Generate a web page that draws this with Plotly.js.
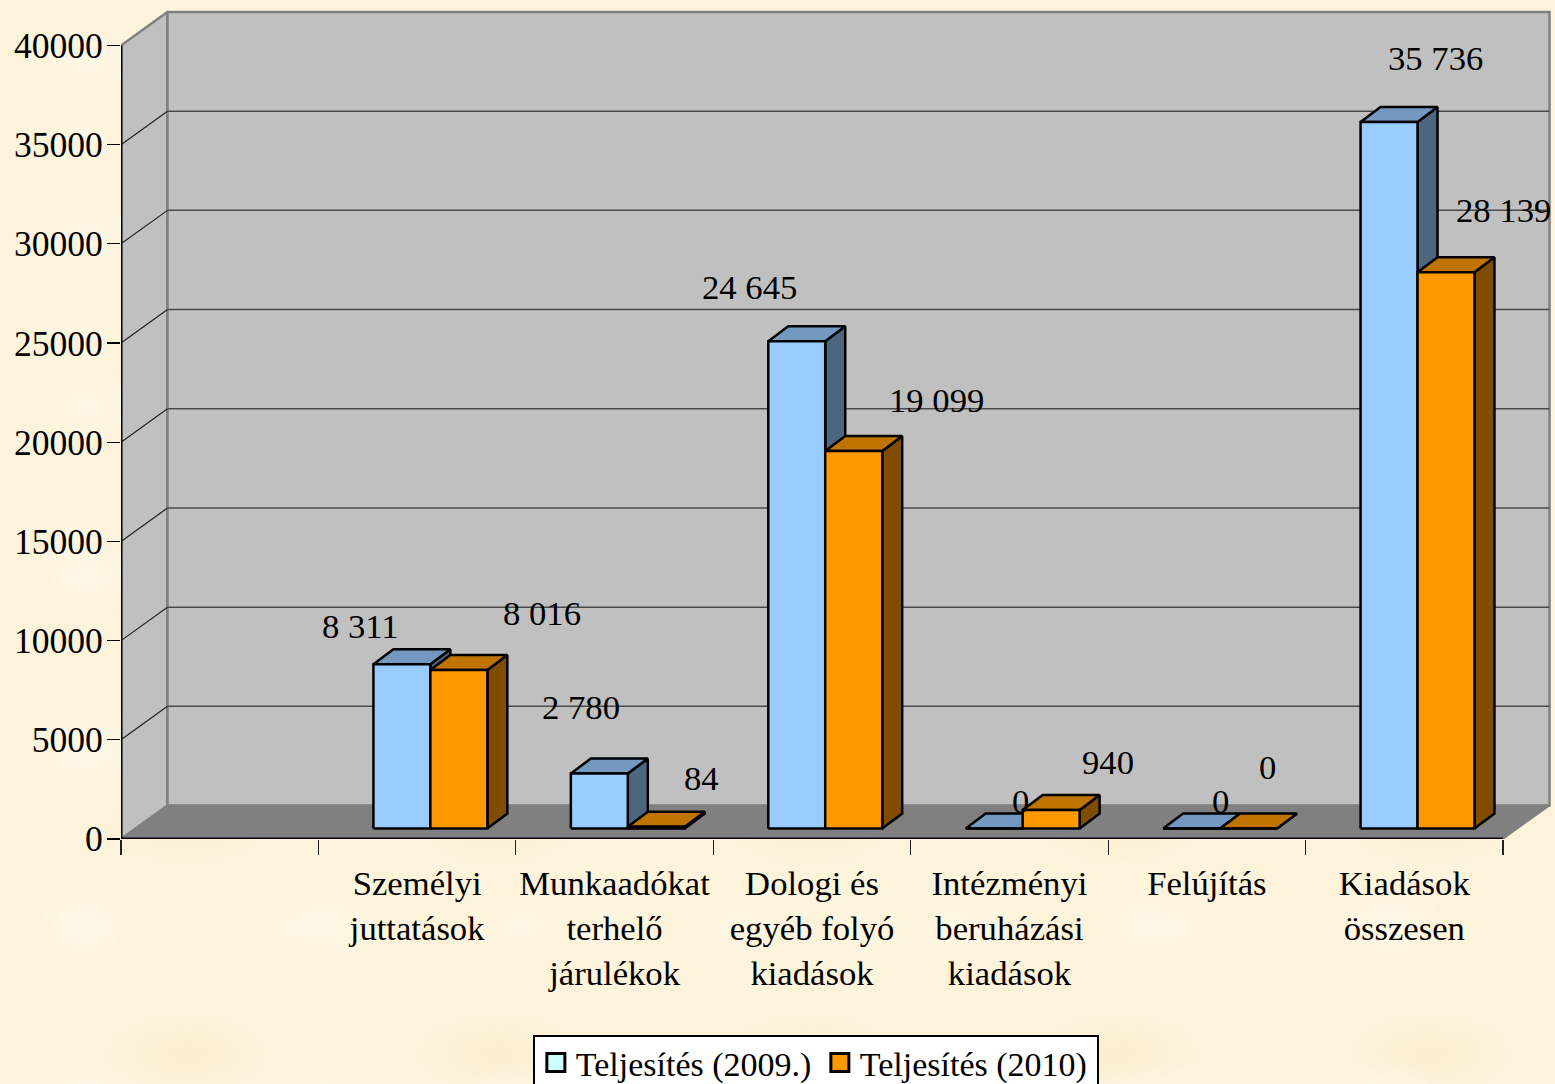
<!DOCTYPE html>
<html>
<head>
<meta charset="utf-8">
<script src="https://cdn.plot.ly/plotly-3.0.1.min.js"></script>
<style>
html,body{margin:0;padding:0;width:1555px;height:1084px;overflow:hidden;
background-color:#fdf3da;
background-image:
 radial-gradient(ellipse 60px 36px at 40% 35%,rgba(255,251,238,.55),transparent),
 radial-gradient(ellipse 80px 40px at 60% 60%,rgba(249,232,196,.45),transparent),
 radial-gradient(ellipse 50px 70px at 30% 70%,rgba(255,249,232,.5),transparent);
background-size:217px 173px,311px 229px,263px 197px;}
#chart{width:1555px;height:1084px;}
</style>
</head>
<body>
<div id="chart"></div>
<script>
// ---- data ----
const categories = ['Személyi<br>juttatások','Munkaadókat<br>terhelő<br>járulékok','Dologi és<br>egyéb folyó<br>kiadások','Intézményi<br>beruházási<br>kiadások','Felújítás','Kiadások<br>összesen'];
const series2009 = [8311, 2780, 24645, 0, 0, 35736];
const series2010 = [8016, 84, 19099, 940, 0, 28139];
const seriesNames = ['Teljesítés (2009.)','Teljesítés (2010)'];
const yTicks = [0,5000,10000,15000,20000,25000,30000,35000,40000];

// ---- layout geometry (pixels) ----
const W=1555, H=1084;
const L=120.5, R=1503, T=45.5, B=839.5;
const pxX=(R-L)/7, pxY=(B-T)/40000;
const dxU=p=>p/pxX, dyU=p=>p/pxY;
const wallX=dxU(46.5), wallY=dyU(33.5);
const barDX=dxU(20), barDY=dyU(15), barBase=dyU(10.5);
const barStart=0.2785, barW=0.2885, barScale=0.9965;
const FONT='"Liberation Serif", "Times New Roman", serif';
const FS=34.67;

function faces(values,sIdx){
  const front={x:[],y:[]},side={x:[],y:[]},top={x:[],y:[]};
  const add=(o,pts)=>{pts.forEach(p=>{o.x.push(p[0]);o.y.push(p[1]);});o.x.push(null);o.y.push(null);};
  values.forEach((v,i)=>{
    const x0=i+1+barStart+sIdx*barW, x1=x0+barW, b=barBase, t=barBase+v*barScale;
    add(front,[[x0,b],[x1,b],[x1,t],[x0,t],[x0,b]]);
    add(side,[[x1,b],[x1+barDX,b+barDY],[x1+barDX,t+barDY],[x1,t],[x1,b]]);
    add(top,[[x0,t],[x0+barDX,t+barDY],[x1+barDX,t+barDY],[x1,t],[x0,t]]);
  });
  return {front,side,top};
}
const poly=(o,fill,lineColor,lw)=>({type:'scatter',mode:'lines',x:o.x,y:o.y,fill:'toself',fillcolor:fill,
  line:{color:lineColor,width:lw,simplify:false},showlegend:false,hoverinfo:'skip'});
const lines=(o,color,lw)=>({type:'scatter',mode:'lines',x:o.x,y:o.y,line:{color:color,width:lw,simplify:false},
  showlegend:false,hoverinfo:'skip',connectgaps:false});

const XMAX=categories.length+1;
const traces=[];
// walls and floor
traces.push(poly({x:[0,wallX,wallX,0,0],y:[0,wallY,40000+wallY,40000,0]},'#c0c0c0','#808080',2.5));
traces.push(poly({x:[wallX,XMAX+wallX,XMAX+wallX,wallX,wallX],y:[wallY,wallY,40000+wallY,40000+wallY,wallY]},'#c0c0c0','#808080',2.5));
traces.push(poly({x:[0,wallX,XMAX+wallX,XMAX,0],y:[0,wallY,wallY,0,0]},'#808080','#808080',1.5));
// gridlines
const gridH={x:[],y:[]},gridD={x:[],y:[]};
yTicks.slice(1,-1).forEach(v=>{
  gridH.x.push(wallX,XMAX+wallX,null);gridH.y.push(v+wallY,v+wallY,null);
  gridD.x.push(0,wallX,null);gridD.y.push(v,v+wallY,null);
});
traces.push(lines(gridH,'#4a4a4a',1.5));
traces.push(lines(gridD,'#222222',1.2));
// axis lines stop at the front corners of the box
traces.push(lines({x:[0,0,null,0,XMAX],y:[0,40000,null,0,0]},'#000',3));
// bars
const f1=faces(series2009,0), f2=faces(series2010,1);
traces.push(poly(f1.side,'#4d6680','#000',2.5));
traces.push(poly(f1.top,'#7399c0','#000',2.5));
traces.push(poly(f1.front,'#99ccff','#000',2.5));
traces.push(poly(f2.side,'#804d00','#000',2.5));
traces.push(poly(f2.top,'#bf7300','#000',2.5));
traces.push(poly(f2.front,'#ff9900','#000',2.5));
// legend entries
[['#ccffff',0],['#ff9900',1]].forEach(c=>{
  traces.push({type:'scatter',mode:'markers',x:[null],y:[null],name:seriesNames[c[1]],
    marker:{symbol:'square',size:16,color:c[0],line:{color:'#000',width:1.4}},hoverinfo:'skip'});
});

// value labels: pixel nudges from each bar's top
const fmt=v=>String(v).replace(/\B(?=(\d{3})+$)/g,' ');
const nudge2009=[[-41,-38],[-18,-66],[-47,-53],[26,-28],[29,-28],[46,-62]];
const nudge2010=[[83,-56],[45,-49],[83,-50],[57,-48],[19,-62],[57,-60]];
const annotations=[];
[[series2009,0,nudge2009],[series2010,1,nudge2010]].forEach(([vals,s,nudge])=>{
  vals.forEach((v,i)=>{
    annotations.push({x:i+1+barStart+(s+0.5)*barW,y:barBase+v,xref:'x',yref:'y',text:fmt(v),showarrow:false,
      xanchor:'center',yanchor:'middle',xshift:nudge[i][0],yshift:-nudge[i][1],
      font:{family:FONT,size:FS,color:'#000'}});
  });
});

const layout={
  width:W,height:H,
  margin:{l:L,r:0,t:0,b:H-B,pad:0,autoexpand:false},
  paper_bgcolor:'rgba(0,0,0,0)',plot_bgcolor:'rgba(0,0,0,0)',
  hovermode:false,showlegend:true,
  font:{family:FONT,size:FS,color:'#000'},
  xaxis:{range:[0,(W-L)/pxX],tickmode:'array',tickvals:categories.map((c,i)=>i+1.5),ticktext:categories,
    ticks:'',ticklen:0,tickangle:0,ticklabelstandoff:20,showgrid:false,zeroline:false,showline:false,
    tickfont:{family:FONT,size:FS,color:'#000'},automargin:false,
    minor:{tickmode:'array',tickvals:[0,1,2,3,4,5,6,7],ticks:'outside',ticklen:15,tickwidth:1.2,tickcolor:'#222',showgrid:false}},
  yaxis:{range:[0,B/pxY],tickmode:'array',tickvals:yTicks,ticktext:yTicks.map(String),ticks:'outside',ticklen:13,tickwidth:1.2,tickcolor:'#000',
    ticklabelstandoff:-3,showgrid:false,zeroline:false,showline:false,
    tickfont:{family:FONT,size:35.6,color:'#000'},automargin:false},
  legend:{orientation:'h',x:(533-L)/(W-L),xanchor:'left',y:-(1036-B)/B,yanchor:'top',
    bgcolor:'#fff',bordercolor:'#000',borderwidth:1.5,itemsizing:'constant',itemwidth:30,
    entrywidth:239,entrywidthmode:'pixels',
    font:{family:FONT,size:34,color:'#000'},traceorder:'normal'},
  annotations:annotations
};
Plotly.newPlot('chart',traces,layout,{displayModeBar:false,staticPlot:true}).then(gd=>{
  // legend fine-tuning to the reference: larger swatches, rows lifted, box fitted to its contents
  gd.querySelectorAll('.legend .legendpoints path.scatterpts').forEach(p=>{
    p.setAttribute('transform',(p.getAttribute('transform')||'')+' scale(1.5)');
  });
  gd.querySelectorAll('.legend .traces').forEach(t=>{
    t.setAttribute('transform',(t.getAttribute('transform')||'')+' translate(1,-3)');
  });
  const bg=gd.querySelector('.legend rect.bg');
  if(bg) bg.setAttribute('width',564);
});
</script>
</body>
</html>
